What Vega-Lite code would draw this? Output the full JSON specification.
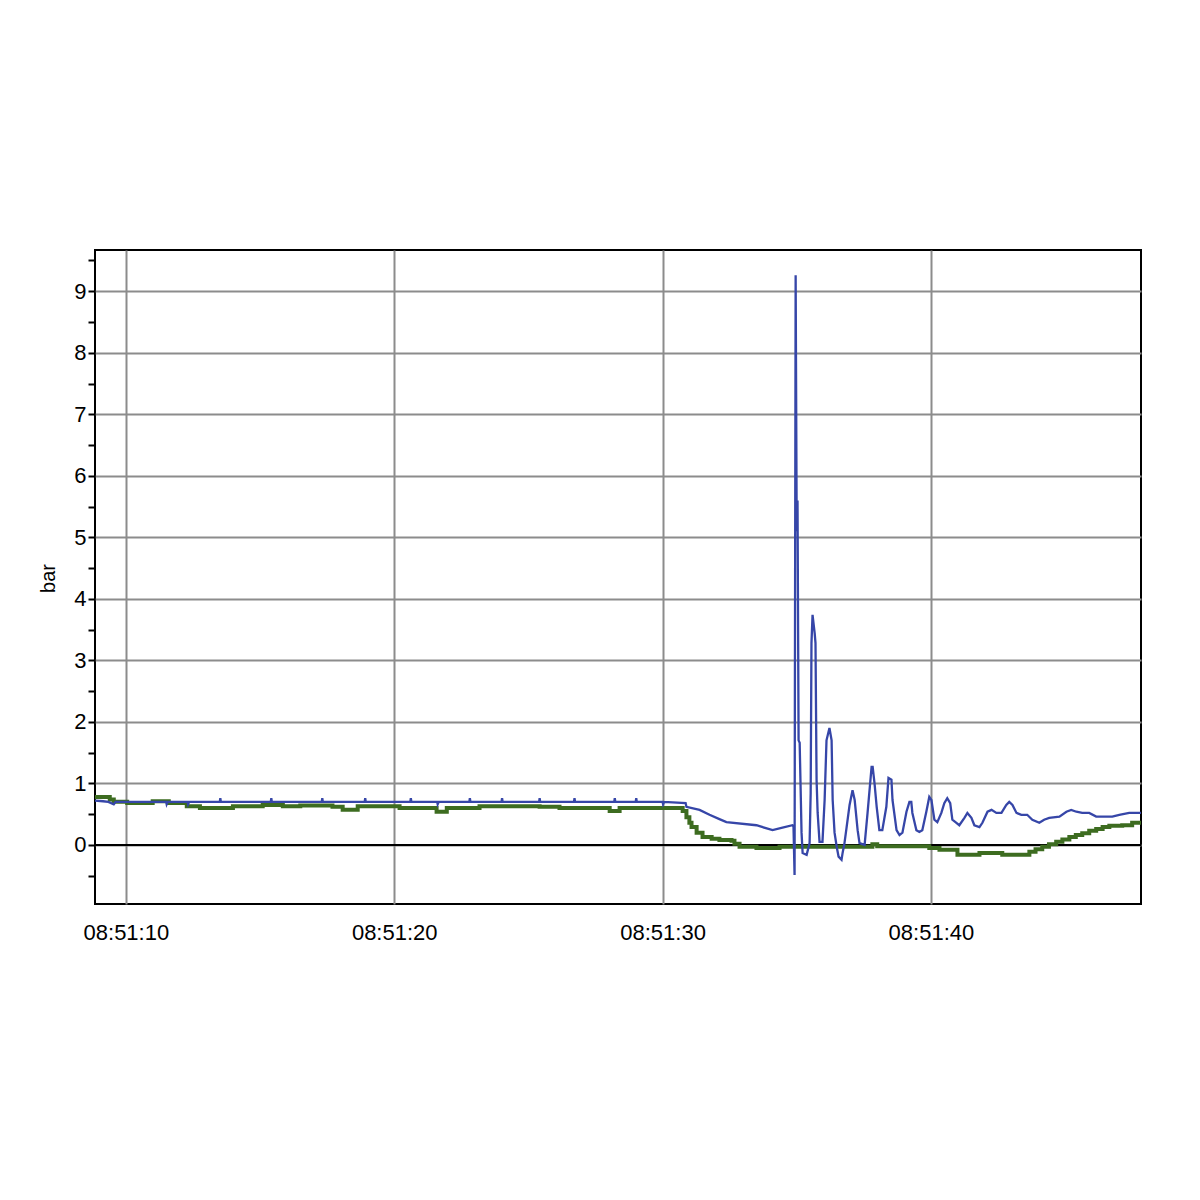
{
 "$schema": "https://vega.github.io/schema/vega-lite/v6.json",
 "width": 1046,
 "height": 654,
 "autosize": {"type": "none"},
 "padding": {"left": 95, "top": 250, "right": 59, "bottom": 296},
 "background": "white",
 "config": {
  "view": {"stroke": "#000", "strokeWidth": 2},
  "axis": {"labelFont": "Liberation Sans", "labelFontSize": 22, "labelColor": "#000", "titleFont": "Liberation Sans", "titleColor": "#000", "titleFontWeight": "normal", "labelOverlap": false}
 },
 "resolve": {"axis": {"y": "independent"}},
 "datasets": {
  "blue": [
   {"t": 8.85, "v": 0.72}, {"t": 9.15, "v": 0.71}, {"t": 9.35, "v": 0.70}, {"t": 9.55, "v": 0.66}, {"t": 9.62, "v": 0.70},
   {"t": 11.5, "v": 0.70}, {"t": 11.52, "v": 0.66}, {"t": 11.56, "v": 0.70},
   {"t": 12.3, "v": 0.70}, {"t": 12.32, "v": 0.66}, {"t": 12.36, "v": 0.70},
   {"t": 13.5, "v": 0.70}, {"t": 13.52, "v": 0.76}, {"t": 13.54, "v": 0.70},
   {"t": 15.4, "v": 0.70}, {"t": 15.42, "v": 0.76}, {"t": 15.44, "v": 0.70},
   {"t": 17.3, "v": 0.70}, {"t": 17.32, "v": 0.76}, {"t": 17.34, "v": 0.70},
   {"t": 18.9, "v": 0.70}, {"t": 18.92, "v": 0.76}, {"t": 18.94, "v": 0.70},
   {"t": 20.6, "v": 0.70}, {"t": 20.62, "v": 0.76}, {"t": 20.64, "v": 0.70},
   {"t": 21.6, "v": 0.70}, {"t": 21.62, "v": 0.66}, {"t": 21.66, "v": 0.70},
   {"t": 22.8, "v": 0.70}, {"t": 22.82, "v": 0.76}, {"t": 22.84, "v": 0.70},
   {"t": 24.0, "v": 0.70}, {"t": 24.02, "v": 0.76}, {"t": 24.04, "v": 0.70},
   {"t": 25.4, "v": 0.70}, {"t": 25.42, "v": 0.76}, {"t": 25.44, "v": 0.70},
   {"t": 26.7, "v": 0.70}, {"t": 26.72, "v": 0.76}, {"t": 26.74, "v": 0.70},
   {"t": 28.2, "v": 0.70}, {"t": 28.22, "v": 0.76}, {"t": 28.24, "v": 0.70},
   {"t": 29.0, "v": 0.70}, {"t": 29.02, "v": 0.76}, {"t": 29.04, "v": 0.70},
   {"t": 30.0, "v": 0.70}, {"t": 30.02, "v": 0.66}, {"t": 30.06, "v": 0.70},
   {"t": 30.86, "v": 0.68}, {"t": 30.89, "v": 0.62}, {"t": 31.38, "v": 0.57}, {"t": 31.75, "v": 0.49},
   {"t": 32.12, "v": 0.42}, {"t": 32.38, "v": 0.37}, {"t": 33.5, "v": 0.32}, {"t": 34.1, "v": 0.24},
   {"t": 34.47, "v": 0.28}, {"t": 34.84, "v": 0.32}, {"t": 34.88, "v": 0.30}, {"t": 34.92, "v": -0.49},
   {"t": 34.96, "v": 9.26}, {"t": 35.0, "v": 5.1}, {"t": 35.03, "v": 5.6}, {"t": 35.07, "v": 1.7},
   {"t": 35.11, "v": 1.66}, {"t": 35.18, "v": 0.2}, {"t": 35.22, "v": -0.13}, {"t": 35.37, "v": -0.16},
   {"t": 35.48, "v": 0.03}, {"t": 35.52, "v": 0.84}, {"t": 35.55, "v": 3.28}, {"t": 35.59, "v": 3.74},
   {"t": 35.67, "v": 3.44}, {"t": 35.7, "v": 3.28}, {"t": 35.74, "v": 1.06}, {"t": 35.78, "v": 0.52},
   {"t": 35.85, "v": 0.05}, {"t": 35.96, "v": 0.05}, {"t": 36.04, "v": 0.73}, {"t": 36.11, "v": 1.7},
   {"t": 36.22, "v": 1.9}, {"t": 36.3, "v": 1.7}, {"t": 36.34, "v": 0.73}, {"t": 36.41, "v": 0.2},
   {"t": 36.49, "v": -0.03}, {"t": 36.56, "v": -0.19}, {"t": 36.67, "v": -0.24}, {"t": 36.71, "v": -0.13},
   {"t": 36.78, "v": 0.03}, {"t": 36.86, "v": 0.29}, {"t": 36.97, "v": 0.65}, {"t": 37.08, "v": 0.89},
   {"t": 37.16, "v": 0.73}, {"t": 37.27, "v": 0.24}, {"t": 37.34, "v": 0.03}, {"t": 37.53, "v": 0.0},
   {"t": 37.64, "v": 0.52}, {"t": 37.79, "v": 1.27}, {"t": 37.83, "v": 1.27}, {"t": 37.9, "v": 1.0},
   {"t": 37.98, "v": 0.62}, {"t": 38.08, "v": 0.24}, {"t": 38.19, "v": 0.24}, {"t": 38.34, "v": 0.62},
   {"t": 38.42, "v": 1.09}, {"t": 38.53, "v": 1.06}, {"t": 38.57, "v": 0.73}, {"t": 38.72, "v": 0.24},
   {"t": 38.83, "v": 0.16}, {"t": 38.94, "v": 0.2}, {"t": 39.09, "v": 0.54}, {"t": 39.2, "v": 0.7},
   {"t": 39.27, "v": 0.7}, {"t": 39.31, "v": 0.52}, {"t": 39.46, "v": 0.24}, {"t": 39.57, "v": 0.21},
   {"t": 39.68, "v": 0.24}, {"t": 39.83, "v": 0.54}, {"t": 39.94, "v": 0.78}, {"t": 40.02, "v": 0.73},
   {"t": 40.13, "v": 0.41}, {"t": 40.24, "v": 0.37}, {"t": 40.39, "v": 0.52}, {"t": 40.5, "v": 0.68},
   {"t": 40.61, "v": 0.76}, {"t": 40.72, "v": 0.68}, {"t": 40.8, "v": 0.41}, {"t": 40.95, "v": 0.36},
   {"t": 41.06, "v": 0.32}, {"t": 41.25, "v": 0.44}, {"t": 41.36, "v": 0.52}, {"t": 41.51, "v": 0.44},
   {"t": 41.62, "v": 0.32}, {"t": 41.81, "v": 0.29}, {"t": 41.92, "v": 0.36}, {"t": 42.11, "v": 0.54},
   {"t": 42.26, "v": 0.57}, {"t": 42.44, "v": 0.52}, {"t": 42.63, "v": 0.52}, {"t": 42.81, "v": 0.65},
   {"t": 42.92, "v": 0.7}, {"t": 43.04, "v": 0.65}, {"t": 43.19, "v": 0.52}, {"t": 43.37, "v": 0.49},
   {"t": 43.59, "v": 0.49}, {"t": 43.78, "v": 0.41}, {"t": 44.04, "v": 0.36}, {"t": 44.22, "v": 0.41},
   {"t": 44.41, "v": 0.44}, {"t": 44.79, "v": 0.46}, {"t": 45.05, "v": 0.54}, {"t": 45.23, "v": 0.57},
   {"t": 45.42, "v": 0.54}, {"t": 45.64, "v": 0.52}, {"t": 45.9, "v": 0.52}, {"t": 46.16, "v": 0.46},
   {"t": 46.46, "v": 0.46}, {"t": 46.76, "v": 0.46}, {"t": 47.02, "v": 0.49}, {"t": 47.39, "v": 0.52},
   {"t": 47.83, "v": 0.52}
  ],
  "green": [
   {"t": 8.85, "v": 0.78}, {"t": 9.4, "v": 0.74}, {"t": 9.55, "v": 0.70}, {"t": 10.05, "v": 0.68},
   {"t": 11.0, "v": 0.71}, {"t": 11.6, "v": 0.68}, {"t": 12.27, "v": 0.63}, {"t": 12.76, "v": 0.60},
   {"t": 13.99, "v": 0.63}, {"t": 15.1, "v": 0.65}, {"t": 15.85, "v": 0.63}, {"t": 16.5, "v": 0.64},
   {"t": 17.7, "v": 0.62}, {"t": 18.08, "v": 0.57}, {"t": 18.64, "v": 0.63}, {"t": 20.2, "v": 0.60},
   {"t": 21.58, "v": 0.54}, {"t": 21.96, "v": 0.60}, {"t": 23.18, "v": 0.63}, {"t": 25.42, "v": 0.62},
   {"t": 26.16, "v": 0.60}, {"t": 28.03, "v": 0.55}, {"t": 28.4, "v": 0.60}, {"t": 30.75, "v": 0.55},
   {"t": 30.89, "v": 0.45}, {"t": 31.0, "v": 0.36}, {"t": 31.08, "v": 0.29}, {"t": 31.27, "v": 0.20},
   {"t": 31.49, "v": 0.13}, {"t": 31.83, "v": 0.10}, {"t": 32.12, "v": 0.08}, {"t": 32.57, "v": 0.07},
   {"t": 32.68, "v": 0.02}, {"t": 32.87, "v": -0.03}, {"t": 33.5, "v": -0.05}, {"t": 34.36, "v": -0.03},
   {"t": 37.82, "v": 0.01}, {"t": 38.0, "v": -0.02}, {"t": 39.94, "v": -0.05}, {"t": 40.32, "v": -0.08},
   {"t": 40.99, "v": -0.16}, {"t": 41.81, "v": -0.13}, {"t": 42.66, "v": -0.16}, {"t": 43.67, "v": -0.11},
   {"t": 43.9, "v": -0.07}, {"t": 44.15, "v": -0.03}, {"t": 44.4, "v": 0.01}, {"t": 44.67, "v": 0.05},
   {"t": 44.9, "v": 0.09}, {"t": 45.16, "v": 0.13}, {"t": 45.4, "v": 0.16}, {"t": 45.64, "v": 0.19},
   {"t": 45.9, "v": 0.23}, {"t": 46.16, "v": 0.26}, {"t": 46.4, "v": 0.29}, {"t": 46.65, "v": 0.31},
   {"t": 47.13, "v": 0.32}, {"t": 47.5, "v": 0.36}, {"t": 47.83, "v": 0.36}
  ]
 },
 "layer": [
  {
   "data": {"values": [{"y0": 0}]},
   "mark": {"type": "rule", "color": "#000", "strokeWidth": 2},
   "encoding": {
    "y": {
     "field": "y0", "type": "quantitative",
     "scale": {"domain": [-0.96, 9.67], "nice": false, "zero": false},
     "axis": {
      "title": "bar", "titleFontSize": 20, "titleX": -41, "titleY": 328, "titleAngle": -90,
      "titleAlign": "center", "titleBaseline": "alphabetic",
      "values": [0, 1, 2, 3, 4, 5, 6, 7, 8, 9], "format": "d",
      "grid": true, "gridWidth": 2, "gridColor": "#8c8c8c",
      "tickColor": "#000", "tickWidth": 2, "tickSize": 7, "labelPadding": 2, "domain": false
     }
    }
   }
  },
  {
   "data": {"name": "green"},
   "mark": {"type": "line", "color": "#3d6c20", "strokeWidth": 4, "interpolate": "step-after"},
   "encoding": {
    "x": {
     "field": "t", "type": "quantitative",
     "scale": {"domain": [8.85, 47.83], "nice": false, "zero": false},
     "axis": {
      "title": null, "values": [10, 20, 30, 40], "labelExpr": "'08:51:' + datum.value",
      "grid": true, "gridColor": "#8c8c8c", "gridWidth": 2, "ticks": false, "labelPadding": 18, "domain": false
     }
    },
    "y": {
     "field": "v", "type": "quantitative",
     "scale": {"domain": [-0.96, 9.67], "nice": false, "zero": false},
     "axis": {
      "orient": "left", "title": null, "values": [-0.5, 0.5, 1.5, 2.5, 3.5, 4.5, 5.5, 6.5, 7.5, 8.5, 9.5],
      "labels": false, "grid": false, "domain": false, "tickColor": "#000", "tickWidth": 2, "tickSize": 7
     }
    }
   }
  },
  {
   "data": {"name": "blue"},
   "mark": {"type": "line", "color": "#3646a8", "strokeWidth": 2.3},
   "encoding": {
    "x": {"field": "t", "type": "quantitative", "scale": {"domain": [8.85, 47.83], "nice": false, "zero": false}},
    "y": {"field": "v", "type": "quantitative", "scale": {"domain": [-0.96, 9.67], "nice": false, "zero": false}, "axis": null}
   }
  }
 ]
}
